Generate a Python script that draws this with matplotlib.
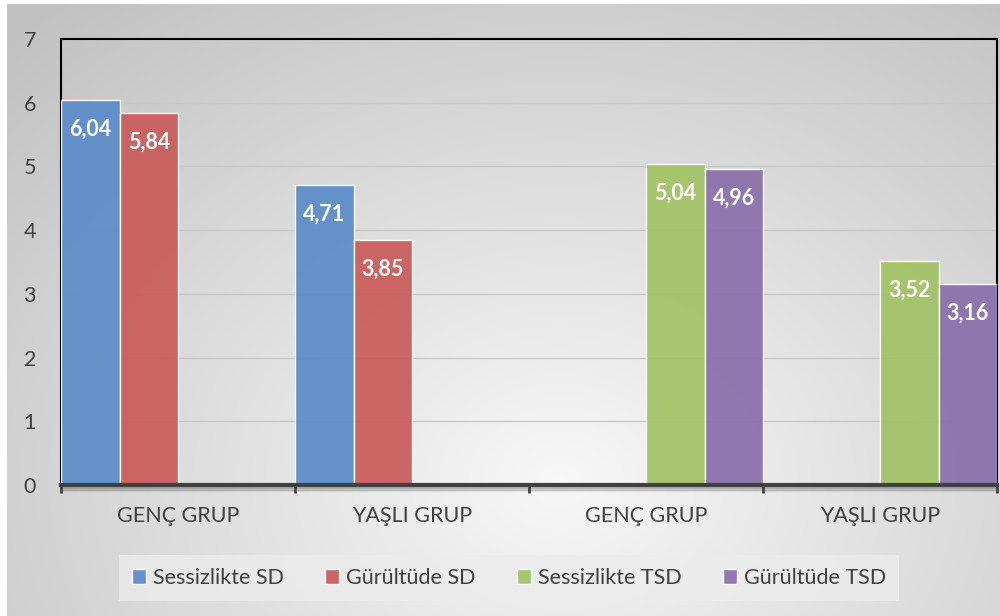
import numpy as np
import matplotlib.pyplot as plt

plt.rcParams['font.family'] = ['Lato', 'DejaVu Sans']

# Chart data
categories = ['GENÇ GRUP', 'YAŞLI GRUP', 'GENÇ GRUP', 'YAŞLI GRUP']
series_names = ['Sessizlikte SD', 'Gürültüde SD', 'Sessizlikte TSD', 'Gürültüde TSD']
sessizlikte_sd = [6.04, 4.71, np.nan, np.nan]
gurultude_sd = [5.84, 3.85, np.nan, np.nan]
sessizlikte_tsd = [np.nan, np.nan, 5.04, 3.52]
gurultude_tsd = [np.nan, np.nan, 4.96, 3.16]
colors = ['#5b8cc8', '#c95c5a', '#a2c266', '#8a70ab']

W, H = 1000, 616
fig = plt.figure(figsize=(W / 100, H / 100), dpi=100)

# background with soft radial gradient
bg = fig.add_axes([0, 0, 1, 1])
yy, xx = np.mgrid[0:H, 0:W]
r = np.sqrt(((xx - 560) / 700) ** 2 + ((yy - 480) / 560) ** 2)
shade = np.clip(0.97 - 0.19 * r, 0.76, 0.97)
img = np.dstack([shade] * 3)
img[:4, :, :] = 1.0
img[:, :7, :] = 1.0
bg.imshow(img, extent=(0, W, H, 0), aspect='auto')
bg.set_xlim(0, W)
bg.set_ylim(H, 0)
bg.axis('off')

ax = fig.add_axes([61 / W, 1 - 485 / H, 936 / W, (485 - 39) / H])
ax.patch.set_alpha(0)

x = np.arange(len(categories))
width = 0.25
all_series = [sessizlikte_sd, gurultude_sd, sessizlikte_tsd, gurultude_tsd]
for i, vals in enumerate(all_series):
    pos = x + (i - 1.5) * width
    ax.bar(pos, vals, width, color=colors[i], alpha=0.93,
           edgecolor=(1, 1, 1, 0.45), linewidth=1, label=series_names[i], zorder=3)
    for p, v in zip(pos, vals):
        if not np.isnan(v):
            ax.annotate(f'{v:.2f}'.replace('.', ','), (p, v), xytext=(0, -21),
                        textcoords='offset points', ha='center', va='center',
                        color='white', fontsize=15.5, fontweight='bold', zorder=4)

ax.set_xlim(-0.5, 3.5)
ax.set_ylim(0, 7)
ax.set_yticks(range(0, 8))
ax.yaxis.grid(True, color='#c8c8c8', linewidth=1, zorder=0)
ax.set_axisbelow(True)
ax.tick_params(axis='y', length=0, pad=18, labelsize=15.5, labelcolor='#404040')

ax.set_xticks(x)
ax.set_xticklabels(categories)
ax.set_xticks(np.arange(-0.5, 4, 1), minor=True)
ax.tick_params(axis='x', which='major', length=0, pad=15, labelsize=15.5, labelcolor='#404040')
ax.tick_params(axis='x', which='minor', length=6, width=2, color='#404040', direction='out')

for side in ['top', 'left', 'right']:
    ax.spines[side].set_color('black')
    ax.spines[side].set_linewidth(1.5)
ax.spines['bottom'].set_color('#404040')
ax.spines['bottom'].set_linewidth(3)
ax.spines['bottom'].set_zorder(5)

# faint shadow below the x axis
for k, a in enumerate([0.25, 0.15, 0.07]):
    bg.plot([61, 997], [488 + k * 1.5, 488 + k * 1.5], color='black', alpha=a, linewidth=1.5)

leg = fig.legend(loc='center', bbox_to_anchor=(509 / W, 1 - 578 / H), ncol=4,
                 frameon=True, fontsize=15.5, handlelength=0.65, handleheight=0.65,
                 handletextpad=0.3, columnspacing=1.95, borderpad=0.6, labelcolor='#404040')
leg.get_frame().set_facecolor('#ececec')
leg.get_frame().set_edgecolor('none')
leg.get_frame().set_boxstyle('square', pad=0)
leg.get_frame().set_alpha(0.8)

fig.savefig('out.png', dpi=100)
